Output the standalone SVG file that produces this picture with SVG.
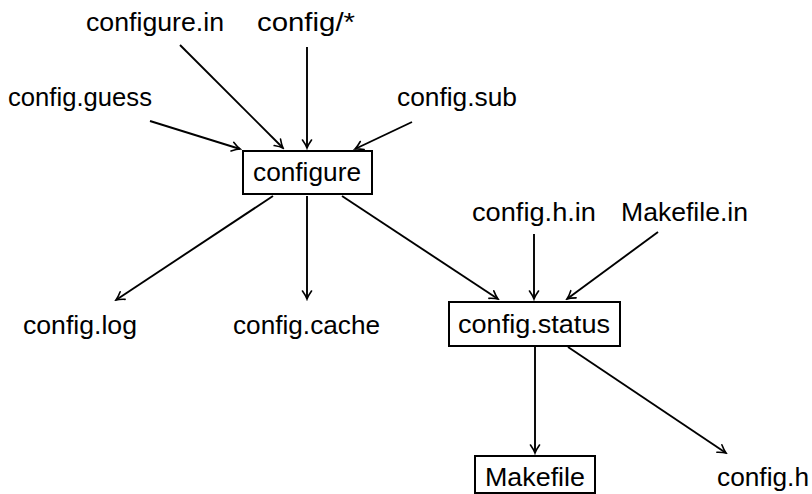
<svg xmlns="http://www.w3.org/2000/svg" width="812" height="494" viewBox="0 0 812 494">
<defs>
<marker id="ah" viewBox="-10 -6 12 12" refX="0" refY="0" markerWidth="12" markerHeight="12" markerUnits="userSpaceOnUse" orient="auto">
<path d="M-8,-4.5 Q-3,-1 0,0 Q-3,1 -8,4.5" fill="none" stroke="#000" stroke-width="1.6" stroke-linecap="round"/>
</marker>
<style>
text{font-family:"Liberation Sans",Arial,sans-serif;font-size:26px;fill:#000}
.box{fill:#fff;stroke:#000;stroke-width:2}
.e{stroke:#000;stroke-width:1.9;fill:none;marker-end:url(#ah)}
</style>
</defs>
<rect width="812" height="494" fill="#fff"/>
<g id="connectors">
<line class="e" x1="180" y1="45" x2="283" y2="148"/>
<line class="e" x1="307" y1="47" x2="307" y2="148"/>
<line class="e" x1="150" y1="121" x2="240" y2="149"/>
<line class="e" x1="412" y1="122" x2="355" y2="149"/>
<line class="e" x1="273" y1="196" x2="116" y2="300"/>
<line class="e" x1="307" y1="196" x2="307" y2="299"/>
<line class="e" x1="342" y1="196" x2="498" y2="299"/>
<line class="e" x1="534" y1="234" x2="534" y2="299"/>
<line class="e" x1="658" y1="232" x2="567" y2="299"/>
<line class="e" x1="535" y1="347" x2="535" y2="453"/>
<line class="e" x1="568" y1="347" x2="726" y2="453"/>
</g>
<g id="configure_in"><text x="86" y="31" textLength="138" lengthAdjust="spacingAndGlyphs">configure.in</text></g>
<g id="config_star"><text x="257" y="31" textLength="98" lengthAdjust="spacingAndGlyphs">config/*</text></g>
<g id="config_guess"><text x="8" y="106" textLength="144" lengthAdjust="spacingAndGlyphs">config.guess</text></g>
<g id="config_sub"><text x="397" y="106" textLength="120" lengthAdjust="spacingAndGlyphs">config.sub</text></g>
<g id="configure"><rect class="box" x="243" y="151" width="129" height="43"/><text x="253" y="181" textLength="108" lengthAdjust="spacingAndGlyphs">configure</text></g>
<g id="config_h_in"><text x="472" y="221" textLength="124" lengthAdjust="spacingAndGlyphs">config.h.in</text></g>
<g id="makefile_in"><text x="621" y="221" textLength="127" lengthAdjust="spacingAndGlyphs">Makefile.in</text></g>
<g id="config_log"><text x="23" y="334" textLength="114" lengthAdjust="spacingAndGlyphs">config.log</text></g>
<g id="config_cache"><text x="233" y="334" textLength="147" lengthAdjust="spacingAndGlyphs">config.cache</text></g>
<g id="config_status"><rect class="box" x="449" y="302" width="171" height="44"/><text x="458" y="333" textLength="152" lengthAdjust="spacingAndGlyphs">config.status</text></g>
<g id="makefile"><rect class="box" x="475" y="456" width="120" height="37"/><text x="485" y="486" textLength="100" lengthAdjust="spacingAndGlyphs">Makefile</text></g>
<g id="config_h"><text x="717" y="486" textLength="92" lengthAdjust="spacingAndGlyphs">config.h</text></g>
</svg>
